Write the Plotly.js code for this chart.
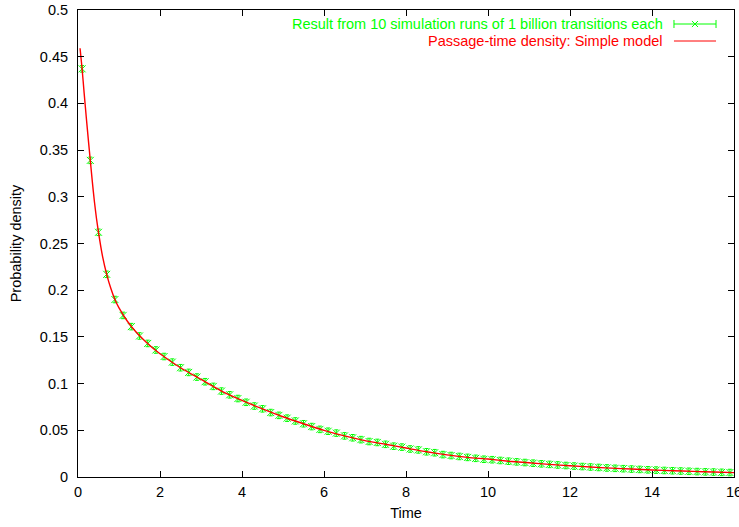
<!DOCTYPE html>
<html>
<head>
<meta charset="utf-8">
<script src="https://cdn.plot.ly/plotly-3.0.1.min.js"></script>
<style>html,body{margin:0;padding:0;background:#fff;}#chart{width:739px;height:527px;}</style>
</head>
<body>
<div id="chart"></div>
<script>
// Simulation results (markers)
const simTime = [0.1,0.3,0.5,0.7,0.9,1.1,1.3,1.5,1.7,1.9,2.1,2.3,2.5,2.7,2.9,3.1,3.3,3.5,3.7,3.9,
  4.1,4.3,4.5,4.7,4.9,5.1,5.3,5.5,5.7,5.9,6.1,6.3,6.5,6.7,6.9,7.1,7.3,7.5,7.7,7.9,
  8.1,8.3,8.5,8.7,8.9,9.1,9.3,9.5,9.7,9.9,10.1,10.3,10.5,10.7,10.9,11.1,11.3,11.5,11.7,11.9,
  12.1,12.3,12.5,12.7,12.9,13.1,13.3,13.5,13.7,13.9,14.1,14.3,14.5,14.7,14.9,15.1,15.3,15.5,15.7,15.9];
const simDensity = [0.437,0.339,0.262,0.217,0.190,0.173,0.161,0.151,0.143,0.136,0.129,0.123,0.117,0.112,0.107,0.102,0.097,0.092,0.088,0.084,
  0.080,0.076,0.073,0.069,0.066,0.063,0.060,0.057,0.054,0.051,0.049,0.047,0.044,0.042,0.040,0.038,0.037,0.035,0.033,0.032,
  0.030,0.029,0.027,0.026,0.024,0.023,0.022,0.021,0.020,0.019,0.0185,0.0177,0.0169,0.0162,0.0155,0.0148,0.0141,0.0135,0.0129,0.0123,
  0.0117,0.0112,0.0107,0.0102,0.0097,0.0093,0.0089,0.0085,0.0081,0.0077,0.0074,0.0070,0.0067,0.0064,0.0061,0.0058,0.0055,0.0053,0.0050,0.0048];

// Passage-time density of simple model (line)
const modelTime = [0.05,0.1,0.15,0.2,0.25,0.3,0.35,0.4,0.45,0.5,0.6,0.7,0.8,0.9,1.0,1.2,1.4,1.6,1.8,2.0,
  2.5,3.0,3.5,4.0,4.5,5.0,5.5,6.0,6.5,7.0,7.5,8.0,8.5,9.0,9.5,10.0,10.5,11.0,11.5,12.0,12.5,13.0,13.5,14.0,14.5,15.0,15.5,16.0];
const modelDensity = [0.459,0.437,0.411,0.386,0.362,0.339,0.316,0.295,0.277,0.262,0.236,0.217,0.202,0.190,0.181,0.167,0.156,0.147,0.139,0.132,
  0.117,0.1045,0.092,0.082,0.073,0.0645,0.057,0.050,0.044,0.039,0.035,0.031,0.027,0.0237,0.021,0.0192,0.0169,0.0152,0.0135,0.0120,0.0107,0.0095,0.0085,0.0075,0.0067,0.0060,0.0053,0.0047];

const xTicks = [0,2,4,6,8,10,12,14,16];
const yTicks = [0,0.05,0.1,0.15,0.2,0.25,0.3,0.35,0.4,0.45,0.5];
const legendLabels = ["Result from 10 simulation runs of 1 billion transitions each", "Passage-time density: Simple model"];

const green = '#00ff00';
const red = '#ff0000';
const font = 'Liberation Sans, Arial, sans-serif';
const fs = 14.5;

const traces = [
  {
    x: simTime, y: simDensity, type: 'scatter', mode: 'markers',
    marker: {symbol: 'x-thin-open', size: 7, color: green, line: {color: green, width: 1}},
    error_y: {type: 'constant', value: 0.0035, color: green, thickness: 1, width: 2},
    showlegend: false, cliponaxis: true
  },
  {
    x: modelTime, y: modelDensity, type: 'scatter', mode: 'lines',
    line: {color: red, width: 1.4, shape: 'spline', smoothing: 0.6},
    showlegend: false
  }
];

// legend drawn gnuplot-style (text right-aligned, sample to its right)
const lx0 = 0.9085, lx1 = 0.9726, lxm = 0.9405;
const gy = 0.970, ry = 0.9336;
const shapes = [
  {type:'line', xref:'paper', yref:'paper', x0:lx0, x1:lx1, y0:gy, y1:gy, line:{color:green, width:1}},
  {type:'line', xref:'paper', yref:'paper', x0:lx0, x1:lx0, y0:gy-0.0086, y1:gy+0.0086, line:{color:green, width:1}},
  {type:'line', xref:'paper', yref:'paper', x0:lx1, x1:lx1, y0:gy-0.0086, y1:gy+0.0086, line:{color:green, width:1}},
  {type:'line', xref:'paper', yref:'paper', x0:lxm-0.0046, x1:lxm+0.0046, y0:gy-0.0064, y1:gy+0.0064, line:{color:green, width:1}},
  {type:'line', xref:'paper', yref:'paper', x0:lxm-0.0046, x1:lxm+0.0046, y0:gy+0.0064, y1:gy-0.0064, line:{color:green, width:1}},
  {type:'line', xref:'paper', yref:'paper', x0:lx0, x1:lx1, y0:ry, y1:ry, line:{color:red, width:1}}
];
const annotations = [
  {xref:'paper', yref:'paper', x:0.8948, y:gy, xanchor:'right', yanchor:'middle', text:legendLabels[0], showarrow:false, font:{family:font, size:fs, color:green}},
  {xref:'paper', yref:'paper', x:0.8948, y:ry, xanchor:'right', yanchor:'middle', text:legendLabels[1], showarrow:false, font:{family:font, size:fs, color:red}}
];

const axisCommon = {
  showline: true, linecolor: '#000', linewidth: 1, mirror: 'ticks',
  ticks: 'inside', ticklen: 6, tickcolor: '#000', tickwidth: 1,
  showgrid: false, zeroline: false, ticklabeloverflow: 'allow',
  tickfont: {family: font, size: fs, color: '#000'}
};

const layout = {
  width: 739, height: 527,
  margin: {l: 78, r: 5, t: 10, b: 50},
  paper_bgcolor: '#fff', plot_bgcolor: '#fff',
  font: {family: font, size: fs, color: '#000'},
  showlegend: false,
  xaxis: Object.assign({}, axisCommon, {
    range: [0, 16], tickvals: xTicks, ticktext: xTicks.map(String), ticklabelstandoff: 2,
    title: {text: 'Time', font: {family: font, size: fs, color: '#000'}, standoff: 8}
  }),
  yaxis: Object.assign({}, axisCommon, {
    range: [0, 0.5], tickvals: yTicks, ticktext: yTicks.map(String), ticklabelstandoff: 6,
    title: {text: 'Probability density', font: {family: font, size: fs, color: '#000'}, standoff: 14}
  }),
  shapes: shapes,
  annotations: annotations
};

Plotly.newPlot('chart', traces, layout, {staticPlot: true, displayModeBar: false});
</script>
</body>
</html>
